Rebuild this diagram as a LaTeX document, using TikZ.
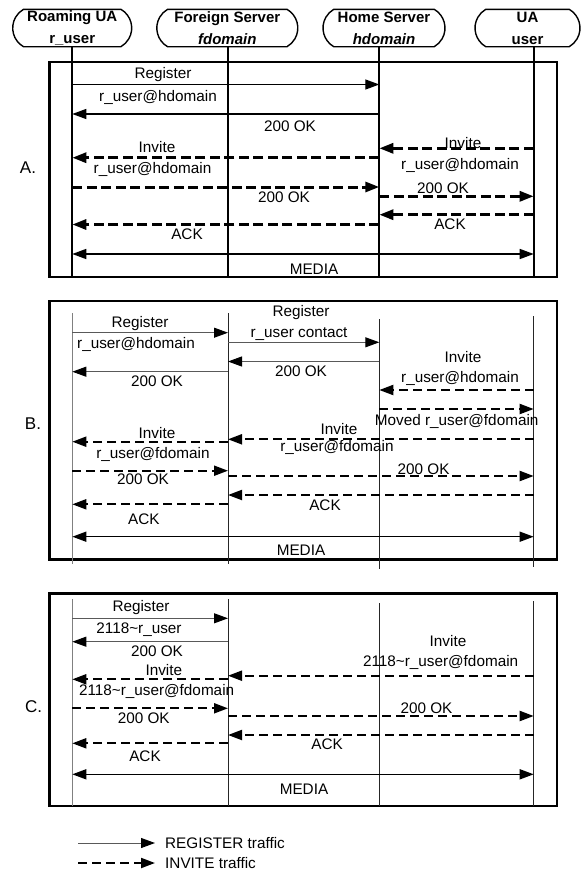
\documentclass[tikz,border=0pt]{standalone}
\usepackage{fontspec}
\setmainfont{Liberation Sans}
\usetikzlibrary{arrows.meta,shapes.misc}
\begin{document}
\begin{tikzpicture}[x=1pt,y=-1pt,
  hdr/.style={draw, line width=1.4pt, rounded rectangle, rounded rectangle arc length=120,
    minimum height=37.4pt, inner sep=0pt, align=center,
    font=\fontsize{15}{22}\selectfont\bfseries},
  lbl/.style={inner sep=0pt, font=\fontsize{15.3}{17}\selectfont},
  sec/.style={inner sep=0pt, font=\fontsize{17}{19}\selectfont},
  boxs/.style={line width=2.4pt},
  lifeA/.style={line width=2pt},
  lifeB/.style={line width=0.9pt, black!85},
  lifeG/.style={line width=0.9pt, black!50},
  tip/.style={-{Triangle[length=14pt,width=10pt,color=black,fill=black]}},
  regA/.style={tip, line width=1.3pt},
  invA/.style={tip, line width=3pt, dash pattern=on 10pt off 4.5pt},
  regB/.style={tip, line width=1pt, black!65},
  invB/.style={tip, line width=2pt, dash pattern=on 9pt off 5pt},
  media/.style={{Triangle[length=14pt,width=10pt]}-{Triangle[length=14pt,width=10pt]}, line width=1.5pt}
]
\useasboundingbox (0,0) rectangle (581,873);

% lifeline x positions
\coordinate (L1) at (72.3,0);
\coordinate (L2) at (228,0);
\coordinate (L3) at (379.3,0);
\coordinate (L4) at (533.7,0);

% headers
\node[hdr, minimum width=119pt] (h1) at (72.2,28) {Roaming UA\\r\_user};
\node[hdr, minimum width=141pt] (h2) at (227.3,28) {Foreign Server\\\textit{fdomain}};
\node[hdr, minimum width=122pt] (h3) at (384,28) {Home Server\\\textit{hdomain}};
\node[hdr, minimum width=105pt] (h4) at (527.5,28) {UA\\user};

% ---------------- Section A ----------------
\draw[boxs] (49.3,62) rectangle (557,277);
\draw[lifeA] (L1 |- h1.south) -- (L1 |- 0,277);
\draw[lifeA] (L2 |- h2.south) -- (L2 |- 0,277);
\draw[lifeA] (L3 |- h3.south) -- (L3 |- 0,277);
\draw[lifeA] (L4 |- h4.south) -- (L4 |- 0,277);

\draw[regA] (L1 |- 0,84.5) -- (L3 |- 0,84.5);
\draw[regA] (L3 |- 0,114) -- (L1 |- 0,114);
\draw[invA] (L4 |- 0,148.3) -- (L3 |- 0,148.3);
\draw[invA] (L3 |- 0,157.7) -- (L1 |- 0,157.7);
\draw[invA] (L1 |- 0,187) -- (L3 |- 0,187);
\draw[invA] (L3 |- 0,196.3) -- (L4 |- 0,196.3);
\draw[invA] (L4 |- 0,214.7) -- (L3 |- 0,214.7);
\draw[invA] (L3 |- 0,224.5) -- (L1 |- 0,224.5);
\draw[media] (L1 |- 0,254) -- (L4 |- 0,254);

\node[sec] (sA) at (28,168) {A.};
\node[lbl] (a1) at (163,75) {Register};
\node[lbl] (a2) at (158,97) {r\_user@hdomain};
\node[lbl] (a3) at (290,126) {200 OK};
\node[lbl] (a4) at (157,147) {Invite};
\node[lbl] (a5) at (152.5,169) {r\_user@hdomain};
\node[lbl] (a6) at (284,197) {200 OK};
\node[lbl] (a7) at (187,234) {ACK};
\node[lbl] (a8) at (314,269) {MEDIA};
\node[lbl] (a9) at (463,143) {Invite};
\node[lbl] (a10) at (460,165) {r\_user@hdomain};
\node[lbl] (a11) at (443,188) {200 OK};
\node[lbl] (a12) at (450,224) {ACK};

% ---------------- Section B ----------------
\draw[boxs] (49.3,301) rectangle (557,559.3);
\draw[lifeG] (L1 |- 0,313) -- (L1 |- 0,564);
\draw[lifeB] (L2 |- 0,313) -- (L2 |- 0,564);
\draw[lifeB] (L3 |- 0,319) -- (L3 |- 0,569);
\draw[lifeB] (L4 |- 0,316) -- (L4 |- 0,567);

\draw[regB] (L1 |- 0,332.7) -- (L2 |- 0,332.7);
\draw[regB] (L2 |- 0,342.3) -- (L3 |- 0,342.3);
\draw[regB] (L3 |- 0,361.5) -- (L2 |- 0,361.5);
\draw[regB] (L2 |- 0,371.7) -- (L1 |- 0,371.7);
\draw[invB] (L4 |- 0,390) -- (L3 |- 0,390);
\draw[invB] (L3 |- 0,409) -- (L4 |- 0,409);
\draw[invB] (L4 |- 0,439.3) -- (L2 |- 0,439.3);
\draw[invB] (L2 |- 0,441.7) -- (L1 |- 0,441.7);
\draw[invB] (L1 |- 0,470.7) -- (L2 |- 0,470.7);
\draw[invB] (L2 |- 0,476) -- (L4 |- 0,476);
\draw[invB] (L4 |- 0,495) -- (L2 |- 0,495);
\draw[invB] (L2 |- 0,504.3) -- (L1 |- 0,504.3);
\draw[media] (L1 |- 0,536.7) -- (L4 |- 0,536.7);

\node[sec] (sB) at (33,423.3) {B.};
\node[lbl] (b1) at (140,323.3) {Register};
\node[lbl] (b2) at (136,344) {r\_user@hdomain};
\node[lbl] (b3) at (301,313) {Register};
\node[lbl] (b4) at (299,334) {r\_user contact};
\node[lbl] (b5) at (301,371) {200 OK};
\node[lbl] (b6) at (157,381) {200 OK};
\node[lbl] (b7) at (463,357) {Invite};
\node[lbl] (b8) at (460,378) {r\_user@hdomain};
\node[lbl] (b9) at (456.7,421) {Moved r\_user@fdomain};
\node[lbl] (b10) at (339,429) {Invite};
\node[lbl] (b11) at (337,447.5) {r\_user@fdomain};
\node[lbl] (b12) at (157,433) {Invite};
\node[lbl] (b13) at (153,454) {r\_user@fdomain};
\node[lbl] (b14) at (143,479.3) {200 OK};
\node[lbl] (b15) at (423.6,469) {200 OK};
\node[lbl] (b16) at (325,505) {ACK};
\node[lbl] (b17) at (143.8,519) {ACK};
\node[lbl] (b18) at (301,550.5) {MEDIA};

% ---------------- Section C ----------------
\draw[boxs] (49.3,593.3) rectangle (557,805.7);
\draw[lifeG] (L1 |- 0,599) -- (L1 |- 0,805.7);
\draw[lifeB] (L2 |- 0,599) -- (L2 |- 0,805.7);
\draw[lifeB] (L3 |- 0,603) -- (L3 |- 0,805.7);
\draw[lifeB] (L4 |- 0,601) -- (L4 |- 0,805.7);

\draw[regB] (L1 |- 0,618.3) -- (L2 |- 0,618.3);
\draw[regB] (L2 |- 0,641.7) -- (L1 |- 0,641.7);
\draw[invB] (L4 |- 0,675.7) -- (L2 |- 0,675.7);
\draw[invB] (L2 |- 0,679.3) -- (L1 |- 0,679.3);
\draw[invB] (L1 |- 0,708.3) -- (L2 |- 0,708.3);
\draw[invB] (L2 |- 0,716) -- (L4 |- 0,716);
\draw[invB] (L4 |- 0,735) -- (L2 |- 0,735);
\draw[invB] (L2 |- 0,743.3) -- (L1 |- 0,743.3);
\draw[media] (L1 |- 0,774.3) -- (L4 |- 0,774.3);

\node[sec] (sC) at (33.6,706.7) {C.};
\node[lbl] (c1) at (141,607.7) {Register};
\node[lbl] (c2) at (139,630) {2118\textasciitilde r\_user};
\node[lbl] (c3) at (157,651.7) {200 OK};
\node[lbl] (c4) at (448,640.7) {Invite};
\node[lbl] (c5) at (440.6,662.5) {2118\textasciitilde r\_user@fdomain};
\node[lbl] (c6) at (163.8,670) {Invite};
\node[lbl] (c7) at (156.6,691.5) {2118\textasciitilde r\_user@fdomain};
\node[lbl] (c8) at (143.7,718.3) {200 OK};
\node[lbl] (c9) at (426.5,708.3) {200 OK};
\node[lbl] (c10) at (327.2,744.3) {ACK};
\node[lbl] (c11) at (145,756.7) {ACK};
\node[lbl] (c12) at (304,789) {MEDIA};

% ---------------- Legend ----------------
\coordinate (g1) at (78,843);
\coordinate (g2) at (155,843);
\coordinate (g3) at (78,863);
\coordinate (g4) at (155,863);
\draw[regB] (g1) -- (g2);
\draw[invB] (g3) -- (g4);
\node[lbl, anchor=west] (leg1) at (165,843) {REGISTER traffic};
\node[lbl, anchor=west] (leg2) at (165,863) {INVITE traffic};
\end{tikzpicture}
\end{document}
